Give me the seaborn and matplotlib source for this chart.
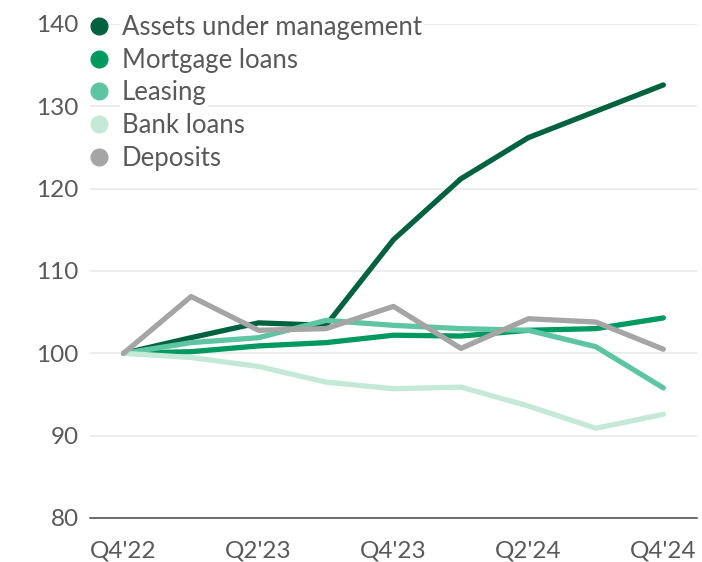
import matplotlib
matplotlib.use("Agg")
import matplotlib.pyplot as plt
from matplotlib.lines import Line2D
from matplotlib.ticker import FixedLocator, NullFormatter
import seaborn as sns
import pandas as pd

quarters = ["Q4'22", "Q1'23", "Q2'23", "Q3'23", "Q4'23", "Q1'24", "Q2'24", "Q3'24", "Q4'24"]
assets_under_management = [100, 101.9, 103.7, 103.4, 113.8, 121.2, 126.2, 129.4, 132.6]
mortgage_loans = [100, 100.2, 100.9, 101.3, 102.2, 102.1, 102.8, 103.0, 104.3]
leasing = [100, 101.3, 101.9, 104.0, 103.4, 103.0, 102.8, 100.8, 95.8]
bank_loans = [100, 99.5, 98.4, 96.5, 95.7, 95.9, 93.6, 90.9, 92.6]
deposits = [100, 106.9, 102.8, 103.0, 105.7, 100.6, 104.2, 103.8, 100.5]

series_names = ["Assets under management", "Mortgage loans", "Leasing", "Bank loans", "Deposits"]
series_values = [assets_under_management, mortgage_loans, leasing, bank_loans, deposits]
colors = ["#00623F", "#00995F", "#5EC5A2", "#C4E9D7", "#A5A5A5"]

y_ticks = [80, 90, 100, 110, 120, 130, 140]
x_tick_labels = ["Q4'22", "Q2'23", "Q4'23", "Q2'24", "Q4'24"]

rows = []
for name, vals in zip(series_names, series_values):
    for i, v in enumerate(vals):
        rows.append({"idx": i, "quarter": quarters[i], "series": name, "value": v})
df = pd.DataFrame(rows)

sns.set_theme(style="white")
plt.rcParams["font.family"] = ["Lato", "DejaVu Sans"]

text_color = "#595959"
fs = 17.5
fig = plt.figure(figsize=(7.02, 5.62), dpi=100)
ax = fig.add_axes([0.128, 0.0783, 0.865, 0.879])

for yv in y_ticks[1:]:
    ax.axhline(yv, color="#EBEBEB", lw=1.3, zorder=0)

sns.lineplot(data=df, x="idx", y="value", hue="series", hue_order=series_names,
             palette=colors, linewidth=3.8, ax=ax, legend=False, sort=False)
for ln in ax.lines:
    ln.set_solid_capstyle("round")
    ln.set_solid_joinstyle("round")

ax.set_xlim(-0.5, 8.5)
ax.set_ylim(80, 140)
ax.set_xlabel("")
ax.set_ylabel("")

ax.set_yticks(y_ticks)
ax.tick_params(axis="y", length=0, pad=8, labelsize=fs, labelcolor=text_color)

label_pos = [quarters.index(q) for q in x_tick_labels]
ax.set_xticks(label_pos)
ax.set_xticklabels(x_tick_labels)
ax.tick_params(axis="x", which="major", length=0, pad=16, labelsize=fs, labelcolor=text_color)
ax.xaxis.set_minor_locator(FixedLocator([i - 0.5 for i in range(len(quarters) + 1)]))
ax.xaxis.set_minor_formatter(NullFormatter())
ax.tick_params(axis="x", which="minor", length=7, width=1.1, color="#444444", direction="out")

for side in ["left", "right", "top"]:
    ax.spines[side].set_visible(False)
ax.spines["bottom"].set_color("#444444")
ax.spines["bottom"].set_linewidth(1.1)

handles = [Line2D([0], [0], marker="o", linestyle="none", markersize=12,
                  markerfacecolor=c, markeredgecolor=c) for c in colors]
leg = ax.legend(handles, series_names, loc="upper left", bbox_to_anchor=(0.124, 0.9735),
                bbox_transform=fig.transFigure, frameon=False, fontsize=18.5,
                handletextpad=0.4, labelspacing=0.3, borderaxespad=0, borderpad=0,
                handlelength=0.95)
for t in leg.get_texts():
    t.set_color(text_color)
    t.set_bbox(dict(facecolor="white", edgecolor="none", pad=1))

fig.savefig("out.png", dpi=100)
